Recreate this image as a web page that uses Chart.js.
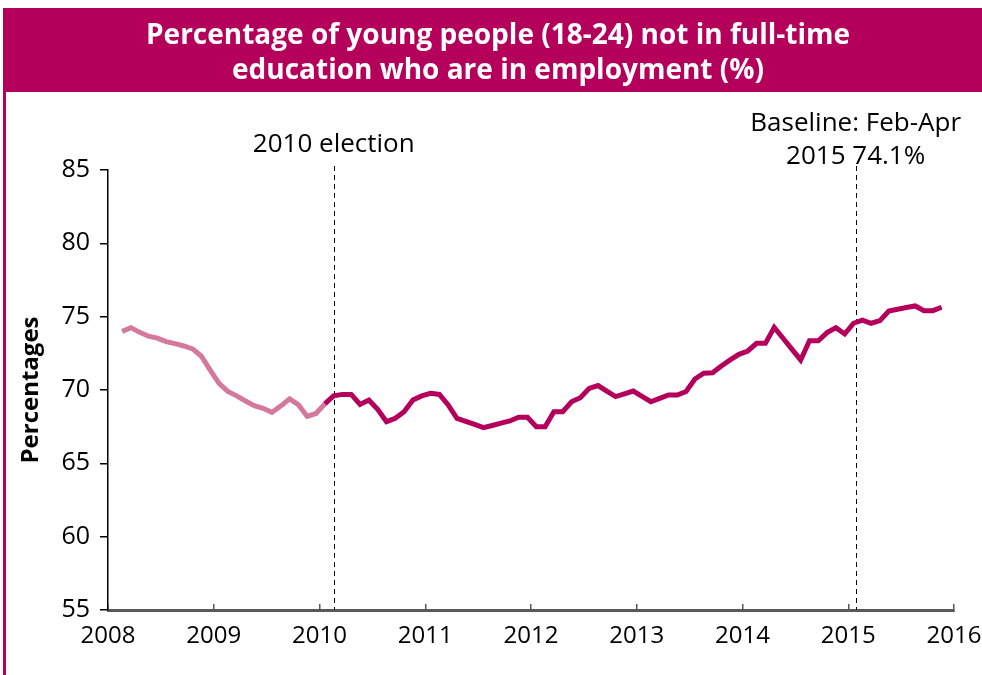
<!DOCTYPE html>
<html>
<head>
<meta charset="utf-8">
<script src="https://cdn.jsdelivr.net/npm/chart.js@4.4.1/dist/chart.umd.min.js"></script>
<style>
  html, body { margin: 0; padding: 0; background: #fff; }
  #wrap { width: 982px; height: 675px; position: relative; }
</style>
</head>
<body>
<div id="wrap"><canvas id="chart" width="982" height="675"></canvas></div>
<script>
const titleLines = ['Percentage of young people (18-24) not in full-time', 'education who are in employment (%)'];
const yAxisTitle = 'Percentages';
const xTicks = [2008, 2009, 2010, 2011, 2012, 2013, 2014, 2015, 2016];
const yTicks = [55, 60, 65, 70, 75, 80, 85];

// monthly rolling values, first point ~Feb 2008
const firstMonth = 1.6;
const employment = [
    74.0, 74.25, 73.93, 73.67, 73.54, 73.3, 73.16, 73.0, 72.8, 72.3,
    71.35, 70.45, 69.9, 69.6, 69.25, 68.93, 68.75, 68.48, 68.9, 69.4,
    69.0, 68.2, 68.4, 69.05, 69.6, 69.7, 69.7, 69.02, 69.32, 68.68,
    67.84, 68.07, 68.52, 69.32, 69.6, 69.77, 69.7, 68.98, 68.07, 67.86,
    67.65, 67.43, 67.58, 67.74, 67.89, 68.14, 68.14, 67.5, 67.5, 68.52,
    68.52, 69.2, 69.47, 70.11, 70.3, 69.92, 69.55, 69.74, 69.93, 69.57,
    69.2, 69.43, 69.66, 69.66, 69.9, 70.75, 71.15, 71.18, 71.64, 72.05,
    72.43, 72.66, 73.18, 73.18, 74.27, 73.53, 72.79, 72.05, 73.36, 73.36,
    73.91, 74.25, 73.82, 74.55, 74.77, 74.55, 74.73, 75.39, 75.5, 75.62,
    75.73, 75.41, 75.41, 75.64
];
const lightUntil = 23; // points before this index are drawn in the paler colour

const markerX = [2010.135, 2015.07];
const markerText = [['2010 election'], ['Baseline: Feb-Apr', '2015 74.1%']];

const MAGENTA = '#b5005b';
const PALE = '#d5799c';
const FONT = "'Open Sans', 'Noto Sans', sans-serif";

const points = employment.map((v, i) => ({ x: 2008 + (firstMonth + i) / 12, y: v }));

const frame = {
    id: 'frame',
    beforeDraw(chart) {
        const ctx = chart.ctx;
        ctx.save();
        ctx.fillStyle = '#fff';
        ctx.fillRect(0, 0, chart.width, chart.height);
        ctx.fillStyle = MAGENTA;
        ctx.fillRect(3, 8, chart.width - 3, 84);
        ctx.fillRect(3, 8, 3, chart.height - 8);
        ctx.fillStyle = '#fff';
        ctx.font = `bold 28px ${FONT}`;
        ctx.textAlign = 'center';
        ctx.textBaseline = 'alphabetic';
        ctx.fillText(titleLines[0], 498, 44);
        ctx.fillText(titleLines[1], 498, 79);
        ctx.restore();
    }
};

const markers = {
    id: 'markers',
    beforeDatasetsDraw(chart) {
        const { ctx, chartArea, scales } = chart;
        ctx.save();
        ctx.strokeStyle = '#000';
        ctx.lineWidth = 1;
        ctx.setLineDash([5, 4]);
        for (const v of markerX) {
            const px = Math.round(scales.x.getPixelForValue(v)) + 0.5;
            ctx.beginPath();
            ctx.moveTo(px, chartArea.top - 4);
            ctx.lineTo(px, chartArea.bottom);
            ctx.stroke();
        }
        ctx.restore();
    },
    afterDraw(chart) {
        const { ctx, chartArea, scales } = chart;
        const lastBaseline = [chartArea.top - 18, chartArea.top - 6];
        ctx.save();
        ctx.fillStyle = '#000';
        ctx.font = `26px ${FONT}`;
        ctx.textAlign = 'center';
        ctx.textBaseline = 'alphabetic';
        markerX.forEach((v, k) => {
            const px = scales.x.getPixelForValue(v);
            const lines = markerText[k];
            lines.forEach((t, j) => {
                ctx.fillText(t, px, lastBaseline[k] - (lines.length - 1 - j) * 33);
            });
        });
        ctx.restore();
    }
};

new Chart(document.getElementById('chart').getContext('2d'), {
    type: 'line',
    data: {
        datasets: [{
            data: points,
            borderColor: MAGENTA,
            borderWidth: 5,
            pointRadius: 0,
            tension: 0,
            fill: false,
            segment: {
                borderColor: c => c.p0DataIndex < lightUntil ? PALE : MAGENTA,
            },
        }]
    },
    options: {
        responsive: false,
        animation: false,
        events: [],
        layout: { padding: { left: 10, right: 28, top: 170, bottom: 0 } },
        plugins: { legend: { display: false }, tooltip: { enabled: false }, title: { display: false } },
        scales: {
            x: {
                type: 'linear',
                min: 2008,
                max: 2016,
                afterBuildTicks: s => { s.ticks = xTicks.map(v => ({ value: v })); },
                afterFit: s => { s.height = 65; s.paddingLeft = 0; s.paddingRight = 0; },
                ticks: {
                    autoSkip: false,
                    maxRotation: 0,
                    color: '#000',
                    font: { family: FONT, size: 24 },
                    padding: 18,
                    callback: v => String(v),
                },
                grid: { drawOnChartArea: false, drawTicks: true, tickLength: -6, color: '#595959', lineWidth: 1.5 },
                border: { color: '#595959', width: 3 },
            },
            y: {
                min: 55,
                max: 85,
                afterBuildTicks: s => { s.ticks = yTicks.map(v => ({ value: v })); },
                afterFit: s => { s.width = 98; s.paddingTop = 0; s.paddingBottom = 0; },
                ticks: {
                    color: '#000',
                    font: { family: FONT, size: 25 },
                    padding: 10,
                },
                grid: { drawOnChartArea: false, drawTicks: true, tickLength: 8, color: '#000', lineWidth: 1.5 },
                border: { color: '#000', width: 1.5 },
                title: {
                    display: true,
                    text: yAxisTitle,
                    color: '#000',
                    font: { family: FONT, size: 24, weight: 'bold' },
                    padding: { top: 7, bottom: 0 },
                },
            },
        },
    },
    plugins: [frame, markers],
});
</script>
</body>
</html>
